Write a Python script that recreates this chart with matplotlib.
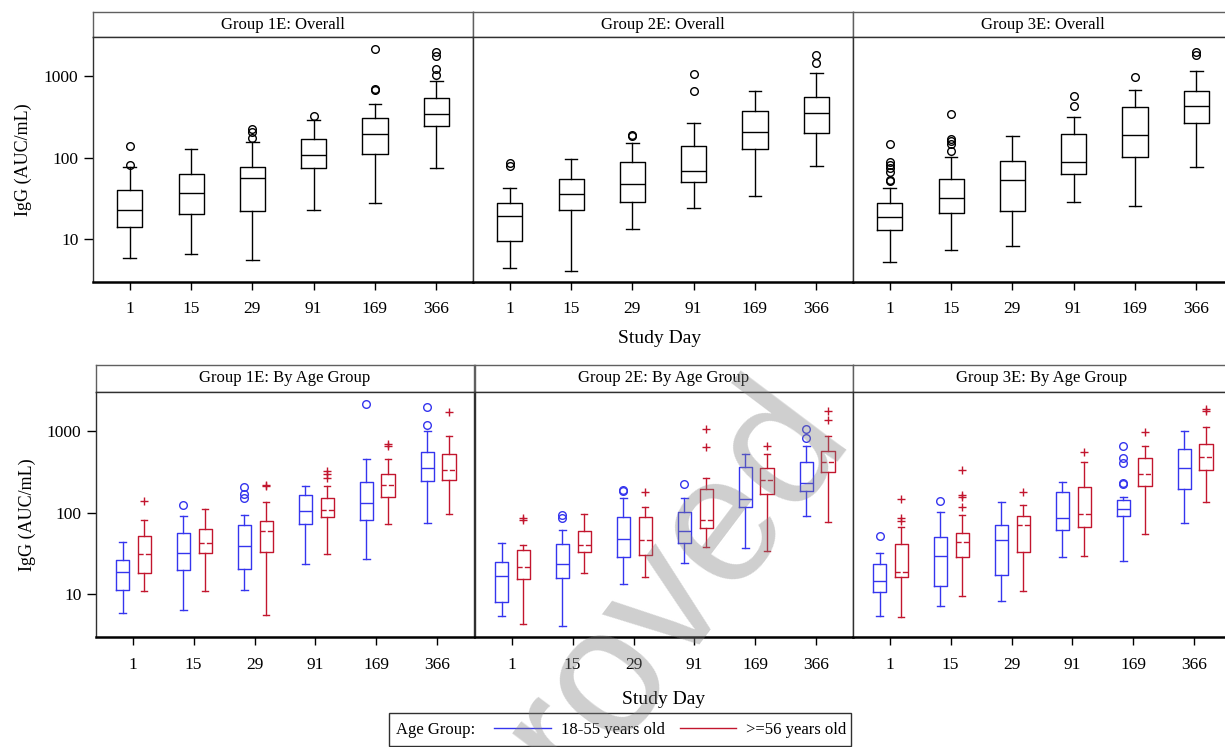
import matplotlib
matplotlib.use("Agg")
import matplotlib.pyplot as plt
from matplotlib.lines import Line2D
from matplotlib.patches import Rectangle
from matplotlib.ticker import NullLocator

days = ["1", "15", "29", "91", "169", "366"]
groups = ["1E", "2E", "3E"]
age_labels = ["18-55 years old", ">=56 years old"]

# each box: (whisker low, Q1, median, Q3, whisker high), one per study day
g1_all = [(5.9, 13.9, 23.0, 40.6, 76.7), (6.5, 20.4, 37.3, 63, 126), (5.55, 22.4, 56.2, 76.7, 155),
          (23, 73.8, 107, 167, 286), (27.6, 112, 194, 303, 460), (74.6, 246, 346, 546, 875)]
g1_all_out = [[82, 139], [], [172, 208, 222], [321], [678, 705, 2150], [1020, 1210, 1765, 1994]]

g2_all = [(4.4, 9.4, 19.1, 28.1, 42.6), (4.1, 22.6, 35.6, 54, 95), (13.4, 28.9, 47.8, 89, 152),
          (23.9, 49.6, 69, 139, 268), (33.7, 127, 209, 370, 666), (78, 198, 356, 555, 1080)]
g2_all_out = [[80, 86], [], [185, 188], [659, 1068], [], [1436, 1833]]

g3_all = [(5.2, 12.9, 18.7, 27.6, 42.3), (7.3, 21.1, 31.8, 54.6, 103), (8.3, 22.2, 53.5, 91, 182),
          (28.9, 63.5, 88.5, 196, 318), (25.8, 103, 187, 423, 672), (77.4, 265, 430, 666, 1152)]
g3_all_out = [[51, 53.5, 66.6, 74.6, 81, 87.5, 149], [120, 145, 159, 170, 340], [], [435, 567],
              [980], [1833, 1963]]

g1_young = [(5.9, 11.3, 18.6, 26.1, 44), (6.5, 19.7, 31.8, 56.9, 90), (11.2, 20.2, 38.7, 71.3, 93.7),
            (23.3, 72, 104, 164, 214), (27.3, 82, 131, 237, 450), (74, 242, 352, 558, 990)]
g1_young_out = [[], [123], [150, 168, 204], [], [2100], [1162, 1930]]
g1_old = [(10.9, 18.1, 30.9, 51.8, 80.5), (11, 31.8, 43, 63.7, 110), (5.6, 33, 59.7, 79, 133),
          (30.9, 89, 107, 153, 214), (73.3, 154, 220, 294, 450), (97, 249, 336, 513, 852)]
g1_old_out = [[138], [], [212, 216], [268, 294, 324], [655, 693], [1693]]

g2_young = [(5.4, 8.1, 16.9, 25.1, 42.5), (4.1, 15.8, 23.3, 41, 61.4), (13.5, 28.6, 47.6, 87.7, 150),
            (24, 42.1, 59.7, 103, 150), (36.9, 117, 148, 362, 523), (91, 184, 229, 417, 655)]
g2_young_out = [[], [86.9, 93.7], [184, 188], [224], [], [805, 1048]]
g2_old = [(4.4, 15.6, 21.6, 35.2, 40.6), (18.2, 33.3, 40.2, 59.7, 95.4), (16.2, 30.3, 46.7, 89.3, 117),
          (38.3, 64.3, 80.5, 195, 266), (33.6, 168, 251, 349, 523), (76, 315, 421, 564, 861)]
g2_old_out = [[81, 85], [], [179], [637, 1038], [649], [1364, 1758]]

g3_young = [(5.4, 10.8, 14.6, 23.8, 31.8), (7.3, 12.8, 29.2, 50.4, 101), (8.3, 17.4, 45.9, 71.3, 136),
            (28.4, 61.9, 86, 177, 240), (25.6, 91, 112, 143, 157), (75.5, 193, 349, 597, 990)]
g3_young_out = [[51.3], [139], [], [], [222, 229, 409, 471, 643], []]
g3_old = [(5.3, 16.5, 19, 41.3, 66), (9.6, 28.6, 43.7, 56.9, 92.7), (10.9, 33.3, 71.3, 90, 124),
          (29.7, 66, 97.2, 208, 421), (55.3, 212, 294, 471, 649), (136, 330, 476, 680, 1099)]
g3_old_out = [[79.8, 85, 146], [117, 157, 164, 333], [177], [553], [954], [1726, 1842]]

W, H = 1225, 747
BLUE = "#3535ee"
RED = "#c2162e"

plt.rcParams["font.family"] = ["Liberation Serif", "DejaVu Serif"]


def to_stats(boxes, fliers):
    return [dict(whislo=b[0], q1=b[1], med=b[2], q3=b[3], whishi=b[4], fliers=f)
            for b, f in zip(boxes, fliers)]


def px_axes(fig, x0, y0, x1, y1):
    return fig.add_axes([x0 / W, 1 - y1 / H, (x1 - x0) / W, (y1 - y0) / H])


def header(fig, x0, y0, x1, y1, text):
    ax = px_axes(fig, x0, y0, x1, y1)
    ax.set_xticks([])
    ax.set_yticks([])
    for s in ax.spines.values():
        s.set_color("#606060")
        s.set_linewidth(1)
    ax.text(0.5, 0.5, text, ha="center", va="center", fontsize=12, transform=ax.transAxes)


def style_panel(ax, first):
    ax.set_yscale("log")
    ax.set_ylim(3, 3000)
    ax.set_xlim(0.4, 6.6)
    ax.set_xticks(range(1, 7))
    ax.set_xticklabels(days)
    ax.tick_params(axis="x", length=6, width=1, pad=8, labelsize=12.5)
    ax.yaxis.set_minor_locator(NullLocator())
    for s in ax.spines.values():
        s.set_linewidth(1)
        s.set_color("#303030")
    ax.spines["bottom"].set_linewidth(1.8)
    ax.spines["bottom"].set_color("black")
    if first:
        ax.set_yticks([10, 100, 1000])
        ax.set_yticklabels(["10", "100", "1000"])
        ax.tick_params(axis="y", length=6.5, width=1, pad=4, labelsize=12.5)
        ax.set_ylabel("IgG (AUC/mL)", fontsize=13)
        ax.yaxis.set_label_coords(-0.16, 0.5)
    else:
        ax.set_yticks([])
        ax.yaxis.set_minor_locator(NullLocator())


def draw_boxes(ax, stats, positions, width, color, marker, dashed):
    line = dict(color=color, linewidth=1)
    ax.bxp(stats, positions=positions, widths=width, capwidths=width * 0.5,
           boxprops=line, whiskerprops=line, capprops=line,
           medianprops=dict(color=color, linewidth=1, linestyle="--" if dashed else "-"),
           flierprops=dict(marker=marker, markerfacecolor="none", markeredgecolor=color,
                           markersize=5.5, markeredgewidth=1),
           manage_ticks=False)


fig = plt.figure(figsize=(W / 100, H / 100), dpi=100)

overall = [(g1_all, g1_all_out), (g2_all, g2_all_out), (g3_all, g3_all_out)]
by_age = [(g1_young, g1_young_out, g1_old, g1_old_out),
          (g2_young, g2_young_out, g2_old, g2_old_out),
          (g3_young, g3_young_out, g3_old, g3_old_out)]

top_left = [93, 473, 853]
bot_left = [96, 475, 853]
pos = list(range(1, 7))

for i, g in enumerate(groups):
    x0 = top_left[i]
    header(fig, x0, 12.3, x0 + 380, 37.3, f"Group {g}: Overall")
    ax = px_axes(fig, x0, 37.3, x0 + 380, 281.7)
    style_panel(ax, i == 0)
    boxes, out = overall[i]
    draw_boxes(ax, to_stats(boxes, out), pos, 0.41, "black", "o", False)

    x0 = bot_left[i]
    header(fig, x0, 365, x0 + 378, 391.7, f"Group {g}: By Age Group")
    ax = px_axes(fig, x0, 391.7, x0 + 378, 637.3)
    style_panel(ax, i == 0)
    yb, yo, ob, oo = by_age[i]
    draw_boxes(ax, to_stats(yb, yo), [p - 0.165 for p in pos], 0.215, BLUE, "o", False)
    draw_boxes(ax, to_stats(ob, oo), [p + 0.19 for p in pos], 0.215, RED, "+", True)

fig.text(660 / W, 1 - 338 / H, "Study Day", fontsize=14, ha="center", va="center")
fig.text(664 / W, 1 - 700 / H, "Study Day", fontsize=14, ha="center", va="center")

# legend
fig.add_artist(Rectangle((389 / W, 1 - 746 / H), (851 - 389) / W, 33 / H,
                         transform=fig.transFigure, fill=False, edgecolor="#303030", linewidth=1))
fig.text(396 / W, 1 - 729.5 / H, "Age Group:", fontsize=12, ha="left", va="center")
handles = [Line2D([], [], color=BLUE, linewidth=1), Line2D([], [], color=RED, linewidth=1)]
fig.legend(handles, age_labels, loc="center left", bbox_to_anchor=(494 / W, 1 - 729.5 / H),
           ncol=2, frameon=False, fontsize=12, handlelength=3.4, handletextpad=0.6,
           columnspacing=0.9, borderpad=0, borderaxespad=0)

# watermark, partly running off the bottom edge as in the reference
fig.text(584 / W, 1 - 719 / H, "Approved", rotation=53, fontsize=130, color="0.5", alpha=0.38,
         family="Liberation Sans", ha="center", va="center", zorder=10)

fig.savefig("out.png", dpi=100)
